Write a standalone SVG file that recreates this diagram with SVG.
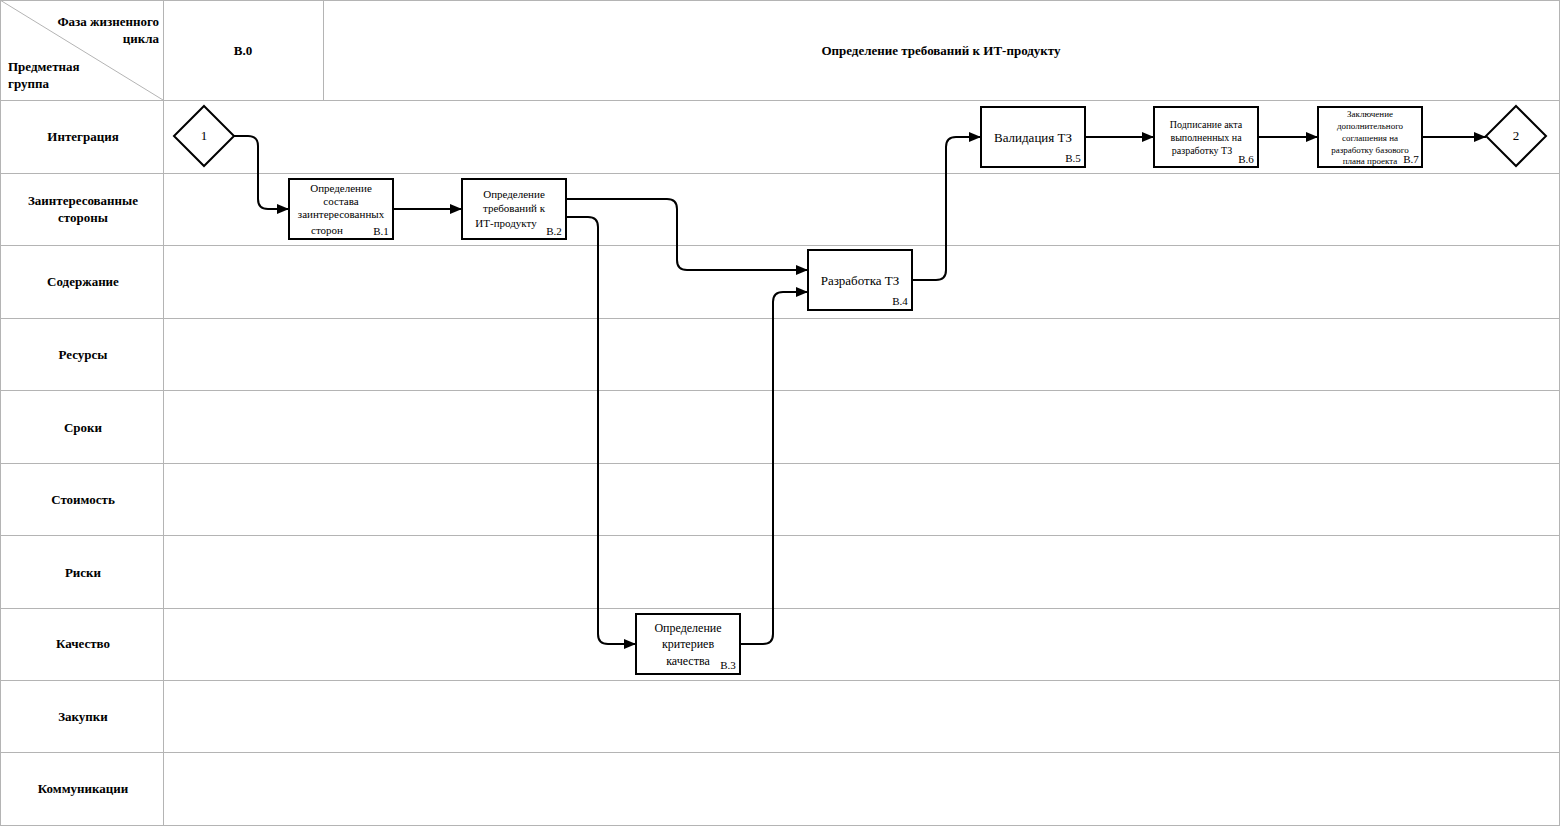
<svg xmlns="http://www.w3.org/2000/svg" width="1560" height="826" viewBox="0 0 1560 826">
<style>
text{font-family:'Liberation Serif','Times New Roman',serif}
.g{stroke:#b4b4b4;stroke-width:1;fill:none}
.h{font-weight:bold;font-size:13px;fill:#000}
.n rect,.n polygon{fill:#fff;stroke:#000;stroke-width:2}
.t{fill:#000;text-anchor:middle}
.c path{fill:none;stroke:#000;stroke-width:2;marker-end:url(#a)}
</style>
<defs><marker id="a" viewBox="0 0 10 10" refX="10" refY="5" markerWidth="12" markerHeight="10" orient="auto" markerUnits="userSpaceOnUse" preserveAspectRatio="none"><path d="M0,0L10,5L0,10z" fill="#000"/></marker></defs>
<rect width="1560" height="826" fill="#fff"/>
<g id="grid">
<rect class="g" x="0.5" y="0.5" width="1559" height="825"/>
<path class="g" d="M163.5,0V826M323.5,0V100M0,100.5H1560M0,173.5H1560M0,245.5H1560M0,318.5H1560M0,390.5H1560M0,463.5H1560M0,535.5H1560M0,608.5H1560M0,680.5H1560M0,752.5H1560M0,0L163,100"/>
<text class="h" x="159" y="26" text-anchor="end">Фаза жизненного</text>
<text class="h" x="159" y="43" text-anchor="end">цикла</text>
<text class="h" x="8" y="71">Предметная</text>
<text class="h" x="8" y="88">группа</text>
<text class="h" x="243" y="55" text-anchor="middle">В.0</text>
<text class="h" x="941" y="55" text-anchor="middle">Определение требований к ИТ-продукту</text>
<text class="h" x="83" y="141" text-anchor="middle">Интеграция</text>
<text class="h" x="83" y="205" text-anchor="middle">Заинтересованные</text>
<text class="h" x="83" y="222" text-anchor="middle">стороны</text>
<text class="h" x="83" y="286" text-anchor="middle">Содержание</text>
<text class="h" x="83" y="359" text-anchor="middle">Ресурсы</text>
<text class="h" x="83" y="432" text-anchor="middle">Сроки</text>
<text class="h" x="83" y="504" text-anchor="middle">Стоимость</text>
<text class="h" x="83" y="577" text-anchor="middle">Риски</text>
<text class="h" x="83" y="648" text-anchor="middle">Качество</text>
<text class="h" x="83" y="721" text-anchor="middle">Закупки</text>
<text class="h" x="83" y="793" text-anchor="middle">Коммуникации</text>
</g>
<g class="c" id="connectors">
<path d="M234,136H248Q258,136 258,146V199Q258,209 268,209H289"/>
<path d="M393,209H462"/>
<path d="M566,199H667Q677,199 677,209V260Q677,270 687,270H808"/>
<path d="M566,217H588Q598,217 598,227V634Q598,644 608,644H636"/>
<path d="M740,644H763Q773,644 773,634V302Q773,292 783,292H808"/>
<path d="M912,280H936Q946,280 946,270V147Q946,137 956,137H981"/>
<path d="M1085,137H1154"/>
<path d="M1258,137H1318"/>
<path d="M1422,137H1486"/>
</g>
<g class="n" id="start"><polygon points="204,106 234,136 204,166 174,136"/><text class="t" x="204" y="140" style="font-size:13px">1</text></g>
<g class="n" id="B1" style="font-size:11px"><rect x="289" y="179" width="104" height="60"/><text class="t" x="341" y="192">Определение</text><text class="t" x="341" y="205">состава</text><text class="t" x="341" y="218">заинтересованных</text><text class="t" x="327" y="234">сторон</text><text class="t" x="381" y="235">В.1</text></g>
<g class="n" id="B2" style="font-size:11px"><rect x="462" y="179" width="104" height="60"/><text class="t" x="514" y="198">Определение</text><text class="t" x="514" y="212">требований к</text><text class="t" x="506" y="227">ИТ-продукту</text><text class="t" x="554" y="235">В.2</text></g>
<g class="n" id="B3" style="font-size:12px"><rect x="636" y="614" width="104" height="60"/><text class="t" x="688" y="632">Определение</text><text class="t" x="688" y="648">критериев</text><text class="t" x="688" y="665">качества</text><text class="t" x="728" y="669" style="font-size:11px">В.3</text></g>
<g class="n" id="B4" style="font-size:13px"><rect x="808" y="250" width="104" height="60"/><text class="t" x="860" y="285">Разработка ТЗ</text><text class="t" x="900" y="305" style="font-size:11px">В.4</text></g>
<g class="n" id="B5" style="font-size:13px"><rect x="981" y="107" width="104" height="60"/><text class="t" x="1033" y="142">Валидация ТЗ</text><text class="t" x="1073" y="162" style="font-size:11px">В.5</text></g>
<g class="n" id="B6" style="font-size:10px"><rect x="1154" y="107" width="104" height="60"/><text class="t" x="1206" y="128">Подписание акта</text><text class="t" x="1206" y="141">выполненных на</text><text class="t" x="1202" y="154">разработку ТЗ</text><text class="t" x="1246" y="163" style="font-size:11px">В.6</text></g>
<g class="n" id="B7" style="font-size:9px"><rect x="1318" y="107" width="104" height="60"/><text class="t" x="1370" y="117">Заключение</text><text class="t" x="1370" y="129">дополнительного</text><text class="t" x="1370" y="141">соглашения на</text><text class="t" x="1370" y="153">разработку базового</text><text class="t" x="1370" y="164">плана проекта</text><text class="t" x="1411" y="163" style="font-size:11px">В.7</text></g>
<g class="n" id="end"><polygon points="1516,106 1546,136 1516,166 1486,136"/><text class="t" x="1516" y="140" style="font-size:13px">2</text></g>
</svg>
